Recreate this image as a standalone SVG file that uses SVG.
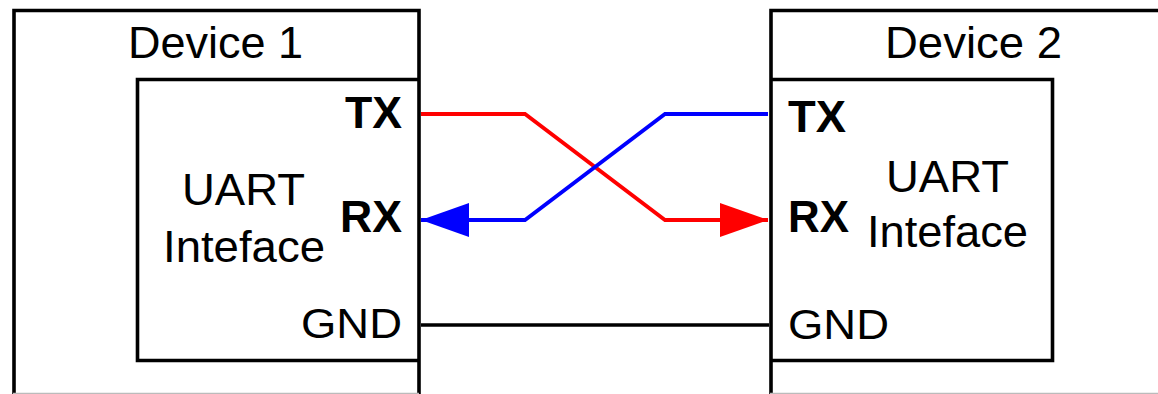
<svg xmlns="http://www.w3.org/2000/svg" width="1158" height="394" viewBox="0 0 1158 394">
<style>
.box{fill:none;stroke:#000;stroke-width:3.6}
.t{font-family:"Liberation Sans",Arial,sans-serif;font-size:45px;fill:#000}
.g{font-size:43px}
.b{font-weight:bold;font-size:44px}
.w{fill:none;stroke-width:3.8}
.edge{stroke:#bbb;stroke-width:1.2}
</style>
<defs>
<marker id="ar" viewBox="0 0 48 34" refX="48" refY="17" markerWidth="48" markerHeight="34" markerUnits="userSpaceOnUse" orient="auto"><path d="M0,0 L48,17 L0,34 Z" fill="#f00"/></marker>
<marker id="ab" viewBox="0 0 48 34" refX="48" refY="17" markerWidth="48" markerHeight="34" markerUnits="userSpaceOnUse" orient="auto"><path d="M0,0 L48,17 L0,34 Z" fill="#00f"/></marker>
</defs>
<rect width="1158" height="394" fill="#fff"/>
<g id="device1">
<path class="box" d="M14,396 V10.5 H419 V396"/>
<line class="edge" x1="13" y1="393.4" x2="419" y2="393.4"/>
<text class="t" x="128" y="57.5" textLength="175" lengthAdjust="spacingAndGlyphs">Device 1</text>
<g id="uart1">
<path class="box" d="M419,79.5 H137.5 V360.5 H419"/>
<text class="t" x="182" y="205" textLength="123" lengthAdjust="spacingAndGlyphs">UART</text>
<text class="t" x="163" y="262" textLength="162" lengthAdjust="spacingAndGlyphs">Inteface</text>
<text class="t b" x="345" y="127.5" textLength="57" lengthAdjust="spacingAndGlyphs">TX</text>
<text class="t b" x="340" y="232" textLength="62" lengthAdjust="spacingAndGlyphs">RX</text>
<text class="t g" x="301" y="338" textLength="101" lengthAdjust="spacingAndGlyphs">GND</text>
</g>
</g>
<g id="device2">
<path class="box" d="M771,396 V10.5 H1160"/>
<line class="edge" x1="770" y1="393.4" x2="1158" y2="393.4"/>
<text class="t" x="885" y="58" textLength="177" lengthAdjust="spacingAndGlyphs">Device 2</text>
<g id="uart2">
<path class="box" d="M771,79.5 H1052.5 V360.5 H771"/>
<text class="t" x="886" y="192" textLength="123" lengthAdjust="spacingAndGlyphs">UART</text>
<text class="t" x="867" y="247" textLength="161" lengthAdjust="spacingAndGlyphs">Inteface</text>
<text class="t b" x="788" y="132" textLength="58" lengthAdjust="spacingAndGlyphs">TX</text>
<text class="t b" x="788" y="232" textLength="61" lengthAdjust="spacingAndGlyphs">RX</text>
<text class="t g" x="788" y="339" textLength="101" lengthAdjust="spacingAndGlyphs">GND</text>
</g>
</g>
<g id="connectors">
<path class="w" stroke="#f00" d="M421,114 H525 L665,220 H768" marker-end="url(#ar)"/>
<path class="w" stroke="#00f" d="M768,114 H665 L525,220 H421" marker-end="url(#ab)"/>
<line stroke="#000" stroke-width="3.6" x1="421" y1="325" x2="769" y2="325"/>
</g>
</svg>
